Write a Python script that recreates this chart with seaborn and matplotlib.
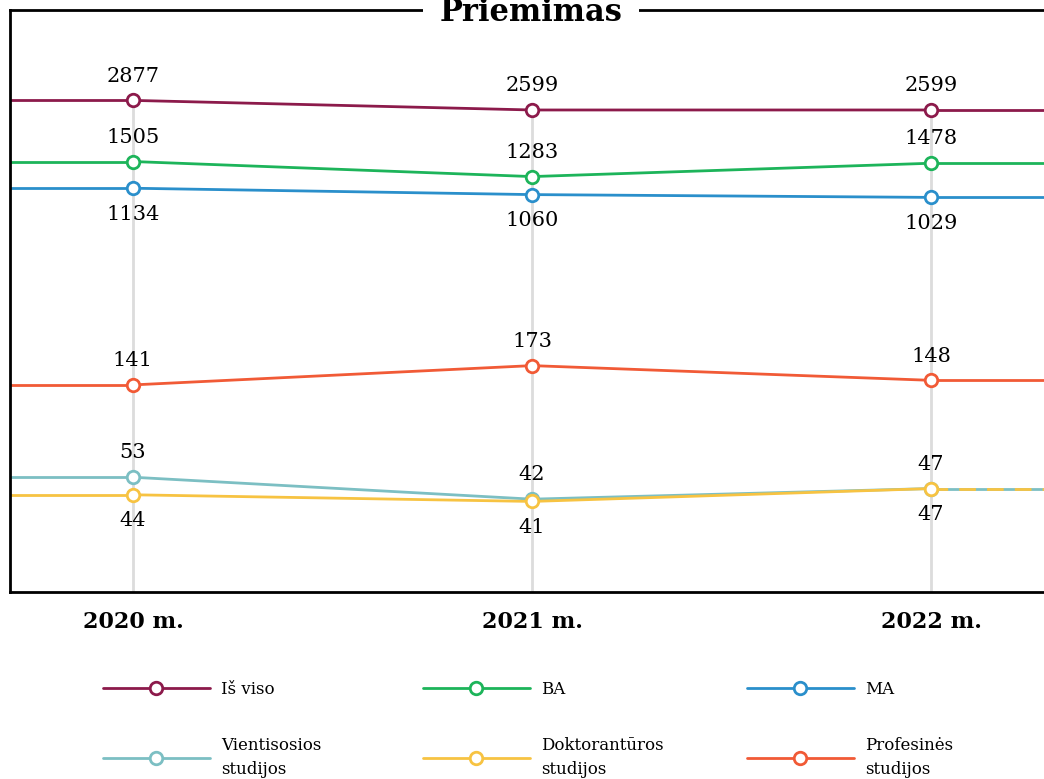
# Priėmimas 2020-2022 pagal studijų pakopas

import numpy as np
import pandas as pd
import matplotlib
matplotlib.use("Agg")
import matplotlib.pyplot as plt
import seaborn as sns

# =====================
# DATA
# =====================
years = ["2020 m.", "2021 m.", "2022 m."]
series_names = ["Iš viso", "BA", "MA",
                "Vientisosios\nstudijos", "Doktorantūros\nstudijos", "Profesinės\nstudijos"]
is_viso = [2877, 2599, 2599]
ba = [1505, 1283, 1478]
ma = [1134, 1060, 1029]
vientisosios = [53, 42, 47]
doktorantura = [44, 41, 47]
profesines = [141, 173, 148]

colors = ["#8c1a4b", "#1db45a", "#2a8fcb", "#7cbfc3", "#f7c342", "#f15a36"]
label_above = [True, True, False, True, False, True]

all_vals = [is_viso, ba, ma, vientisosios, doktorantura, profesines]
rows = []
for name, vals in zip(series_names, all_vals):
    for i, v in enumerate(vals):
        rows.append({"series": name, "x": i, "value": v})
df = pd.DataFrame(rows)

# =====================
# PLOT
# =====================
sns.set_theme(style="white")
plt.rcParams["font.family"] = ["DejaVu Serif"]
plt.rcParams["text.color"] = "black"

W, H = 1044, 779
fig = plt.figure(figsize=(W / 100, H / 100), dpi=100)
ax = fig.add_axes([10 / W, 1 - 592 / H, 1 - 10 / W, (592 - 10) / H])
ax.set_yscale("log")
ax.set_ylim(15.7, 7500)
ax.set_xlim(-0.308, 2.283)

# vertikalios linijos
ax.vlines(range(len(years)), 15.7, is_viso, color="#dcdcdc", lw=2, zorder=0)

for name, vals, col, above in zip(series_names, all_vals, colors, label_above):
    sub = df[df["series"] == name]
    ax.plot([-1, 0], [vals[0], vals[0]], color=col, lw=2, zorder=2)
    if name.startswith("Doktorant") and vals[-1] == vientisosios[-1]:
        ax.plot([2, 3], [vals[-1], vals[-1]], color=col, lw=2, zorder=2.5,
                dashes=(6, 4))
    else:
        ax.plot([2, 3], [vals[-1], vals[-1]], color=col, lw=2, zorder=2)
    sns.lineplot(data=sub, x="x", y="value", color=col, lw=2, marker="o",
                 markersize=9, markerfacecolor="white", markeredgecolor=col,
                 markeredgewidth=2, ax=ax, legend=False, zorder=3)
    for i, v in enumerate(vals):
        if above:
            ax.annotate(str(v), (i, v), xytext=(0, 13.5), textcoords="offset points",
                        ha="center", va="baseline", fontsize=15, color="black")
        else:
            ax.annotate(str(v), (i, v), xytext=(0, -12), textcoords="offset points",
                        ha="center", va="top", fontsize=15, color="black")

ax.set_xticks(range(len(years)), years)
ax.set_yticks([])
ax.minorticks_off()
ax.set_xlabel("")
ax.set_ylabel("")
ax.tick_params(axis="x", direction="inout", length=10, width=2, color="black",
               pad=9, labelsize=16, labelcolor="black")
for lab in ax.get_xticklabels():
    lab.set_fontweight("bold")
for s in ["left", "bottom", "top"]:
    ax.spines[s].set_color("black")
    ax.spines[s].set_linewidth(2)
ax.spines["right"].set_visible(False)

fig.text(531 / W, 1 - 21 / H, "Priėmimas", ha="center", va="baseline",
         fontsize=22, fontweight="bold", color="black",
         bbox=dict(fc="white", ec="none", pad=12))

# legenda - trys stulpeliai
col_x = [103, 423, 747]
for c in range(3):
    handles = []
    labels = []
    for r in range(2):
        k = r * 3 + c
        handles.append(plt.Line2D([], [], color=colors[k], lw=2, marker="o",
                                  markersize=9, markerfacecolor="white",
                                  markeredgecolor=colors[k], markeredgewidth=2))
        labels.append(series_names[k])
    leg = fig.legend(handles, labels, loc="upper left",
                     bbox_to_anchor=(col_x[c] / W, 1 - 681 / H),
                     frameon=False, fontsize=12, handlelength=6.4,
                     handletextpad=0.7, labelspacing=2.35, borderpad=0,
                     borderaxespad=0, numpoints=1)
    for t in leg.get_texts():
        t.set_linespacing(1.55)
        t.set_color("black")

fig.savefig("out.png", dpi=100)
